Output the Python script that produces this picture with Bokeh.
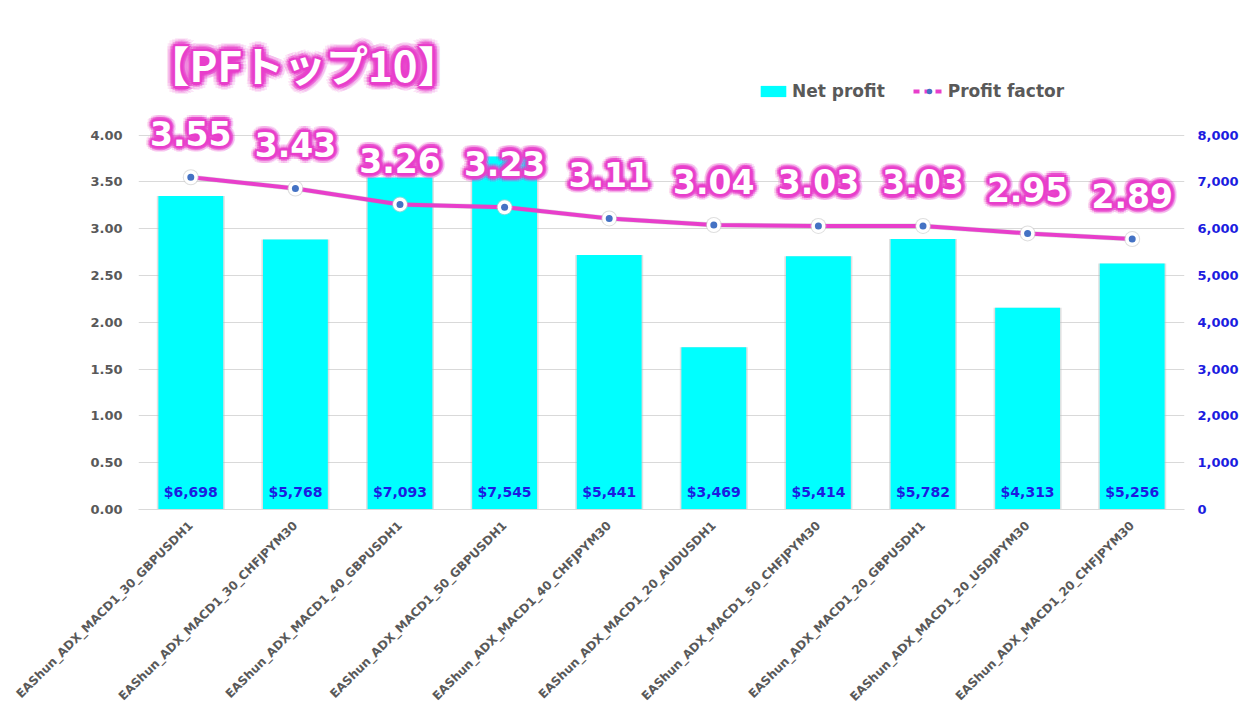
import math
from bokeh.plotting import figure
from bokeh.models import (ColumnDataSource, Range1d, LinearAxis, FixedTicker, Legend,
                          LegendItem, Label, NumeralTickFormatter)
from bokeh.core.properties import value
from bokeh.embed import file_html
from bokeh.resources import INLINE

# ---------------- data ----------------
strategies = [
    "EAShun_ADX_MACD1_30_GBPUSDH1",
    "EAShun_ADX_MACD1_30_CHFJPYM30",
    "EAShun_ADX_MACD1_40_GBPUSDH1",
    "EAShun_ADX_MACD1_50_GBPUSDH1",
    "EAShun_ADX_MACD1_40_CHFJPYM30",
    "EAShun_ADX_MACD1_20_AUDUSDH1",
    "EAShun_ADX_MACD1_50_CHFJPYM30",
    "EAShun_ADX_MACD1_20_GBPUSDH1",
    "EAShun_ADX_MACD1_20_USDJPYM30",
    "EAShun_ADX_MACD1_20_CHFJPYM30",
]
net_profit = [6698, 5768, 7093, 7545, 5441, 3469, 5414, 5782, 4313, 5256]
profit_factor = [3.55, 3.43, 3.26, 3.23, 3.11, 3.04, 3.03, 3.03, 2.95, 2.89]
pf_ticks = [0.0, 0.5, 1.0, 1.5, 2.0, 2.5, 3.0, 3.5, 4.0]
np_ticks = [0, 1000, 2000, 3000, 4000, 5000, 6000, 7000, 8000]
title_text = "【PFトップ10】"
series_names = ["Net profit", "Profit factor"]

# ---------------- styles ----------------
PINK = "#E83ECB"
CYAN = "#00FFFF"
BLUE_TXT = "#1c1ce0"
DOT_BLUE = "#4472C4"
GRAY_TXT = "#595959"
GRID = "#d9d9d9"
FONT = "DejaVu Sans"
PF_MAX = 5.3          # view range of the left axis (room for title / labels)
NP_MAX = PF_MAX * 2000  # right axis kept in ratio 4.00 : 8,000

src = ColumnDataSource(dict(
    x=strategies,
    np=net_profit,
    pf=profit_factor,
    np_lbl=["${:,}".format(v) for v in net_profit],
    pf_lbl=["{:.2f}".format(v) for v in profit_factor],
    base=[0] * len(strategies),
))

p = figure(x_range=strategies, y_range=Range1d(0, PF_MAX), width=1251, height=712,
           output_backend="svg", toolbar_location=None,
           min_border_left=138, min_border_right=67, min_border_top=13, min_border_bottom=203)
p.extra_y_ranges = {"np": Range1d(0, NP_MAX), "hidden": Range1d(1000, 1001)}
p.outline_line_color = None
p.background_fill_color = "white"
p.border_fill_color = "white"

# axes
p.xaxis.major_label_orientation = math.pi / 4
p.xaxis.major_label_text_font = FONT
p.xaxis.major_label_text_font_size = "12px"
p.xaxis.major_label_text_font_style = "bold"
p.xaxis.major_label_text_color = GRAY_TXT
p.xaxis.major_tick_line_color = None
p.xaxis.axis_line_color = GRID
p.xaxis.major_label_standoff = 8
p.xgrid.grid_line_color = None

p.yaxis.ticker = FixedTicker(ticks=pf_ticks)
p.yaxis.formatter = NumeralTickFormatter(format="0.00")
p.yaxis.major_label_text_font = FONT
p.yaxis.major_label_text_font_size = "13px"
p.yaxis.major_label_text_font_style = "bold"
p.yaxis.major_label_text_color = GRAY_TXT
p.yaxis.axis_line_color = None
p.yaxis.major_tick_line_color = None
p.yaxis.minor_tick_line_color = None
p.yaxis.major_tick_out = 0
p.yaxis.major_label_standoff = 16
p.ygrid.ticker = FixedTicker(ticks=pf_ticks)
p.ygrid.grid_line_color = GRID

rax = LinearAxis(y_range_name="np", ticker=FixedTicker(ticks=np_ticks),
                 formatter=NumeralTickFormatter(format="0,0"))
rax.major_label_text_font = FONT
rax.major_label_text_font_size = "13px"
rax.major_label_text_font_style = "bold"
rax.major_label_text_color = BLUE_TXT
rax.axis_line_color = None
rax.major_tick_line_color = None
rax.minor_tick_line_color = None
rax.major_tick_out = 0
rax.major_label_standoff = 13
p.add_layout(rax, "right")

# bars (with soft shadow)
p.vbar(x="x", top="np", source=src, width=0.65, y_range_name="np",
       fill_color="#bdbdbd", fill_alpha=0.45, line_color=None)
bars = p.vbar(x="x", top="np", source=src, width=0.62, y_range_name="np",
              fill_color=CYAN, line_color=None)

p.text(x="x", y="base", text="np_lbl", source=src, y_range_name="np",
       text_align="center", text_baseline="middle", y_offset=-18,
       text_font=value(FONT), text_font_size="14px", text_font_style="bold",
       text_color=BLUE_TXT)

# profit factor line
p.line(x="x", y="pf", source=src, line_color="#9a9a9a", line_alpha=0.35, line_width=5)
pf_line = p.line(x="x", y="pf", source=src, line_color=PINK, line_width=4)
p.scatter(x="x", y="pf", source=src, size=16, fill_color="#c8c8c8", line_color=None, fill_alpha=0.6)
p.scatter(x="x", y="pf", source=src, size=14, fill_color="white", line_color=None)
dots = p.scatter(x="x", y="pf", source=src, size=7, fill_color=DOT_BLUE, line_color=None)

# glow data labels
def ring(r, n):
    return [(r * math.cos(2 * math.pi * k / n), r * math.sin(2 * math.pi * k / n)) for k in range(n)]

for (rr, nn, aa) in [(6, 16, 0.18), (4, 12, 0.45), (2.2, 8, 1.0)]:
    for dx, dy in ring(rr, nn):
        p.text(x="x", y="pf", text="pf_lbl", source=src, x_offset=dx, y_offset=-44 + dy,
               text_align="center", text_baseline="middle",
               text_font=value(FONT), text_font_size="33px", text_font_style="bold",
               text_color=PINK, text_alpha=aa)
p.text(x="x", y="pf", text="pf_lbl", source=src, y_offset=-44,
       text_align="center", text_baseline="middle",
       text_font=value(FONT), text_font_size="33px", text_font_style="bold",
       text_color="white")

# title with glow
TX, TY = 9, 446
for (rr, nn, aa) in [(8, 16, 0.15), (5, 12, 0.4), (2.5, 8, 1.0)]:
    for dx, dy in ring(rr, nn):
        p.add_layout(Label(x=TX + dx, y=TY + dy, x_units="screen", y_units="screen",
                           text=title_text, text_baseline="middle", text_align="left",
                           text_font="Noto Sans CJK JP", text_font_size="42px",
                           text_font_style="bold", text_color=PINK, text_alpha=aa))
p.add_layout(Label(x=TX, y=TY, x_units="screen", y_units="screen",
                   text=title_text, text_baseline="middle", text_align="left",
                   text_font="Noto Sans CJK JP", text_font_size="42px",
                   text_font_style="bold", text_color="white"))

# legend (dashed swatch drawn by a renderer whose data lie outside the view)
leg_line = p.line(x="x", y="pf", source=src, y_range_name="hidden",
                  line_color=PINK, line_width=4, line_dash="6 5")
legend = Legend(items=[LegendItem(label=series_names[0], renderers=[bars]),
                       LegendItem(label=series_names[1], renderers=[leg_line, dots])],
                location=(619, 408), orientation="horizontal",
                glyph_width=32, glyph_height=14, label_standoff=3, spacing=28,
                padding=0, margin=0, border_line_color=None, background_fill_alpha=0,
                label_text_font=FONT, label_text_font_size="17px",
                label_text_font_style="bold", label_text_color=GRAY_TXT)
p.add_layout(legend, "center")

open("out.html", "w").write(file_html(p, INLINE))
